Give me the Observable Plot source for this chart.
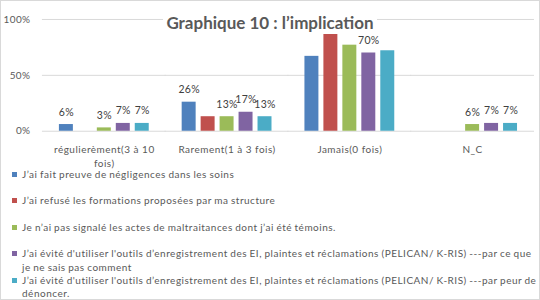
<!DOCTYPE html>
<html>
<head>
<meta charset="utf-8">
<script src="https://cdn.jsdelivr.net/npm/d3@7"></script>
<script src="https://cdn.jsdelivr.net/npm/@observablehq/plot@0.6"></script>
<style>
  body { margin: 0; background: #fff; }
  #chart { position: relative; width: 540px; height: 300px; box-sizing: border-box; border: 1px solid #d9d9d9; overflow: hidden; font-family: Lato, "Open Sans", sans-serif; color: #595959; background: #fff; }
  #plot { position: absolute; left: -1px; top: -1px; }
  #plot svg g[aria-label="fx-axis tick label"] text { letter-spacing: 0.5px; }
  #plot svg g[aria-label="y-axis tick label"] text { letter-spacing: 0.4px; }
  #plot svg g[aria-label="text"] text { letter-spacing: 0.3px; }
  #title { position: absolute; top: 11px; left: -1px; width: 540px; text-align: center; pointer-events: none; }
  #title span { display: inline-block; background: #fff; padding: 0 3px; font: bold 17px Lato, sans-serif; color: #595959; line-height: 22px; }
  .item { position: absolute; left: 11px; width: 540px; font-size: 10px; line-height: 13.5px; letter-spacing: 0.5px; word-spacing: -0.5px; }
  .item .sw { position: absolute; left: 0; top: 4px; width: 5px; height: 5px; }
  .item .tx { position: absolute; left: 10px; width: 520px; white-space: normal; }
</style>
</head>
<body>
<div id="chart">
  <div id="plot"></div>
  <div id="title"><span></span></div>
  <div id="legend"></div>
</div>
<script>
const titleText = "Graphique 10 : l’implication";
const categories = ["régulierèment(3 à 10 fois)", "Rarement(1 à 3 fois)", "Jamais(0 fois)", "N_C"];
const seriesNames = [
  "J’ai fait preuve de négligences dans les soins",
  "J’ai refusé les formations proposées par ma structure",
  "Je n’ai pas signalé les actes de maltraitances dont j’ai été témoins.",
  "J’ai évité d'utiliser l'outils d’enregistrement des EI, plaintes et réclamations (PELICAN/ K-RIS) ---par ce que je ne sais pas comment",
  "J’ai évité d'utiliser l'outils d’enregistrement des EI, plaintes et réclamations (PELICAN/ K-RIS) ---par peur de dénoncer."
];
const colors = ["#4f81bd", "#c0504d", "#9bbb59", "#8064a2", "#4bacc6"];

// values per series, in category order (null = no bar)
const negligence      = [0.06, 0.26, 0.67, null];
const refusFormations = [null, 0.13, 0.87, null];
const nonSignalement  = [0.03, 0.13, 0.77, 0.06];
const eviteNeSaitPas  = [0.07, 0.17, 0.70, 0.07];
const eviteParPeur    = [0.07, 0.13, 0.72, 0.07];

// which data labels are visible in the original
const negligenceLabels      = [true, true, false, false];
const refusFormationsLabels = [false, false, false, false];
const nonSignalementLabels  = [true, true, false, true];
const eviteNeSaitPasLabels  = [true, true, true, true];
const eviteParPeurLabels    = [true, true, false, true];

const yTicks = [0, 0.5, 1];

const seriesValues = [negligence, refusFormations, nonSignalement, eviteNeSaitPas, eviteParPeur];
const seriesLabels = [negligenceLabels, refusFormationsLabels, nonSignalementLabels, eviteNeSaitPasLabels, eviteParPeurLabels];

const rows = [];
seriesNames.forEach((s, si) => {
  categories.forEach((c, ci) => {
    const v = seriesValues[si][ci];
    if (v != null) rows.push({cat: c, series: s, value: v, show: seriesLabels[si][ci]});
  });
});

const fmtPct = d3.format(".0%");

const chart = Plot.plot({
  width: 540,
  height: 172,
  marginTop: 19,
  marginBottom: 41,
  marginLeft: 41,
  marginRight: 5,
  style: { fontFamily: "Lato, sans-serif", fontSize: "10px", color: "#595959", background: "transparent", overflow: "visible" },
  fx: { domain: categories, paddingInner: 0.19, paddingOuter: 0.095, label: null },
  x: { domain: seriesNames, padding: 0.263, axis: null },
  y: { domain: [0, 1], label: null },
  color: { domain: seriesNames, range: colors },
  marks: [
    Plot.ruleY(yTicks, { stroke: "#d9d9d9", strokeWidth: 1, insetLeft: -12, insetRight: -12 }),
    Plot.axisY({ ticks: yTicks, tickFormat: fmtPct, tickSize: 0, tickPadding: 24, label: null, fill: "#595959" }),
    Plot.axisFx({
      anchor: "bottom", tickSize: 0, tickPadding: 12, label: null, fill: "#595959", lineHeight: 1.4,
      tickFormat: d => d.length > 22 ? d.replace(/ (\S+)$/, "\n$1") : d
    }),
    Plot.barY(rows, { fx: "cat", x: "series", y: "value", fill: "series" }),
    Plot.text(rows.filter(d => d.show), {
      fx: "cat", x: "series", y: "value", text: d => fmtPct(d.value),
      lineAnchor: "bottom", dy: -9, fill: "#404040", fontSize: 10.5
    })
  ]
});
document.getElementById("plot").appendChild(chart);
document.querySelector("#title span").textContent = titleText;

const legend = document.getElementById("legend");
seriesNames.forEach((s, i) => {
  const item = document.createElement("div");
  item.className = "item";
  item.style.top = (167 + 26.4 * i) + "px";
  const sw = document.createElement("div");
  sw.className = "sw";
  sw.style.background = colors[i];
  const tx = document.createElement("div");
  tx.className = "tx";
  tx.textContent = s;
  item.appendChild(sw);
  item.appendChild(tx);
  legend.appendChild(item);
});
</script>
</body>
</html>
